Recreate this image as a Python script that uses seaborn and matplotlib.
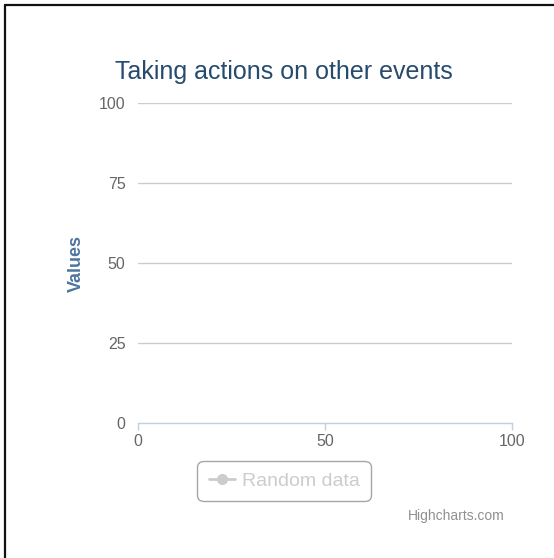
import matplotlib
matplotlib.use("Agg")
import matplotlib.pyplot as plt
from matplotlib.lines import Line2D
import seaborn as sns

# chart data: the single series has no visible points (hidden series)
series_name = "Random data"
series_x = []
series_y = []
x_ticks = [0, 50, 100]
y_ticks = [0, 25, 50, 75, 100]
title = "Taking actions on other events"
y_title = "Values"
credits = "Highcharts.com"

sns.set_style("white")
plt.rcParams["font.family"] = ["Liberation Sans", "DejaVu Sans"]

W, H = 554, 558
fig = plt.figure(figsize=(W / 100, H / 100), dpi=100)
ax = fig.add_axes([138 / W, 1 - 423 / H, (512 - 138) / W, (423 - 103) / H])

# empty series, greyed out like a hidden Highcharts series
ax.plot(series_x, series_y, color="#cccccc", marker="o", markersize=7,
        linewidth=2, label=series_name)

ax.set_xlim(x_ticks[0], x_ticks[-1])
ax.set_ylim(y_ticks[0], y_ticks[-1])
ax.set_xticks(x_ticks)
ax.set_yticks(y_ticks)
ax.set_xticklabels([str(t) for t in x_ticks])
ax.set_yticklabels([str(t) for t in y_ticks])

for t in y_ticks[1:]:
    ax.axhline(t, color="#cccccc", linewidth=1, zorder=0)

for side in ["top", "right", "left"]:
    ax.spines[side].set_visible(False)
ax.spines["bottom"].set_color("#C0D0E0")
ax.spines["bottom"].set_linewidth(1)

ax.tick_params(axis="x", length=5, width=1, color="#C0D0E0", direction="out",
               pad=3, labelsize=11.5, labelcolor="#666666", bottom=True)
ax.tick_params(axis="y", length=0, pad=9, labelsize=11.5, labelcolor="#666666")

fig.text(76 / W, 1 - 264 / H, y_title, rotation=90, ha="center", va="center",
         fontsize=13, fontweight="bold", color="#4d759e")

fig.text(284 / W, 1 - 79 / H, title, ha="center", va="baseline",
         fontsize=18, color="#274b6d")

leg = ax.legend(loc="center", bbox_to_anchor=(284 / W, 1 - 481 / H),
                bbox_transform=fig.transFigure, frameon=True, fancybox=True,
                fontsize=14, handlelength=1.35, handletextpad=0.35,
                borderpad=0.6, borderaxespad=0)
leg.get_frame().set_edgecolor("#909090")
leg.get_frame().set_linewidth(1)
leg.get_frame().set_boxstyle("round,pad=0,rounding_size=0.35")
for txt in leg.get_texts():
    txt.set_color("#cccccc")

fig.text(505 / W, 1 - 516 / H, credits, ha="right", va="center",
         fontsize=10, color="#909090")

# outer frame (top and left edges visible)
fig.add_artist(Line2D([5 / W, 1.0], [1 - 5 / H, 1 - 5 / H],
                      transform=fig.transFigure, color="#111111", linewidth=1.6))
fig.add_artist(Line2D([5 / W, 5 / W], [0.0, 1 - 5 / H],
                      transform=fig.transFigure, color="#111111", linewidth=1.6))

fig.savefig("out.png", dpi=100, facecolor="white")
